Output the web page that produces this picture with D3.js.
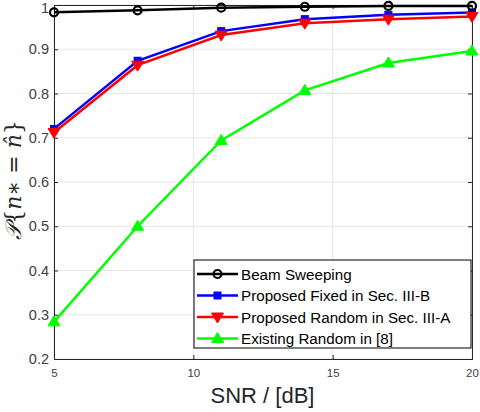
<!DOCTYPE html>
<html>
<head>
<meta charset="utf-8">
<script src="https://cdn.jsdelivr.net/npm/d3@7"></script>
<style>
body { margin: 0; background: #fff; }
svg { font-family: "Liberation Sans", Arial, sans-serif; }
</style>
</head>
<body>
<div id="chart"></div>
<script>
// data
const snr = [5, 8, 11, 14, 17, 20]
const beamSweeping = [0.9835, 0.988, 0.994, 0.996, 0.998, 0.998]
const proposedFixed = [0.72, 0.874, 0.941, 0.968, 0.978, 0.983]
const proposedRandom = [0.712, 0.864, 0.932, 0.959, 0.968, 0.974]
const existingRandom = [0.284, 0.5, 0.694, 0.807, 0.869, 0.896]
const xTicks = [5, 10, 15, 20]
const yTicks = [0.2, 0.3, 0.4, 0.5, 0.6, 0.7, 0.8, 0.9, 1]

const series = [
    { name: 'Beam Sweeping', values: beamSweeping, color: '#000000', marker: 'circle' },
    { name: 'Proposed Fixed in Sec. III-B', values: proposedFixed, color: '#0000ff', marker: 'square' },
    { name: 'Proposed Random in Sec. III-A', values: proposedRandom, color: '#ff0000', marker: 'down' },
    { name: 'Existing Random in [8]', values: existingRandom, color: '#00ff00', marker: 'up' }
]

const svgWidth = 480
const svgHeight = 412
const margin = { left: 54, right: 8, top: 5, bottom: 53 }
const width = svgWidth - margin.left - margin.right
const height = svgHeight - margin.top - margin.bottom

const svg = d3.select('#chart')
    .append('svg')
    .attr('width', svgWidth)
    .attr('height', svgHeight)

const g = svg.append('g')
    .attr('transform', `translate(${margin.left},${margin.top})`)

const xScale = d3.scaleLinear().domain([5, 20]).range([0, width])
const yScale = d3.scaleLinear().domain([0.2, 1]).range([height, 0])

// grid
g.append('g').selectAll('line')
    .data(xTicks)
    .join('line')
    .attr('x1', d => xScale(d)).attr('x2', d => xScale(d))
    .attr('y1', 0).attr('y2', height)
    .attr('stroke', '#e6e6e6').attr('stroke-width', 1)
g.append('g').selectAll('line')
    .data(yTicks)
    .join('line')
    .attr('x1', 0).attr('x2', width)
    .attr('y1', d => yScale(d)).attr('y2', d => yScale(d))
    .attr('stroke', '#e6e6e6').attr('stroke-width', 1)

// axes (MATLAB style box with inward ticks)
const axisColor = '#262626'
const xAxis = d3.axisBottom(xScale).tickValues(xTicks).tickSize(-4).tickPadding(10).tickFormat(d3.format('d'))
const yAxis = d3.axisLeft(yScale).tickValues(yTicks).tickSize(-4).tickPadding(5).tickFormat(d => d === 1 ? '1' : d3.format('.1f')(d))

const gx = g.append('g').attr('transform', `translate(0,${height})`).call(xAxis)
const gy = g.append('g').call(yAxis)
g.append('g').call(d3.axisTop(xScale).tickValues(xTicks).tickSize(-4).tickFormat(''))
g.append('g').attr('transform', `translate(${width},0)`).call(d3.axisRight(yScale).tickValues(yTicks).tickSize(-4).tickFormat(''))

g.selectAll('.domain').attr('stroke', axisColor).attr('stroke-width', 1)
g.selectAll('.tick line').attr('stroke', axisColor)
g.selectAll('.tick text').attr('fill', '#404040')
    .attr('font-family', '"Liberation Sans", Arial, sans-serif')
gx.selectAll('.tick text').attr('font-size', 11.5)
gy.selectAll('.tick text').attr('font-size', 14.5)
// top label "1" sits at the very edge; nudge it down a little so it stays whole
gy.selectAll('.tick text').filter(d => d === 1).attr('dy', '0.55em')

// lines
const line = d3.line()
    .x((d, i) => xScale(snr[i]))
    .y(d => yScale(d))

function drawMarker(sel, type, color, x, y) {
    if (type === 'circle') {
        sel.append('circle').attr('cx', x).attr('cy', y).attr('r', 4)
            .attr('fill', 'none').attr('stroke', color).attr('stroke-width', 2.2)
    } else if (type === 'square') {
        sel.append('rect').attr('x', x - 3.5).attr('y', y - 3.5).attr('width', 7).attr('height', 7)
            .attr('fill', color).attr('stroke', color).attr('stroke-width', 1)
    } else if (type === 'down') {
        sel.append('path').attr('d', `M${x - 6},${y - 4}L${x + 6},${y - 4}L${x},${y + 6}Z`)
            .attr('fill', color).attr('stroke', color).attr('stroke-width', 1)
    } else {
        sel.append('path').attr('d', `M${x - 6},${y + 4}L${x + 6},${y + 4}L${x},${y - 6}Z`)
            .attr('fill', color).attr('stroke', color).attr('stroke-width', 1)
    }
}

// draw order: green, blue, red, black (red sits over blue in the picture)
const order = [3, 1, 2, 0]
order.forEach(k => {
    const s = series[k]
    const sg = g.append('g')
    sg.append('path')
        .datum(s.values)
        .attr('d', line)
        .attr('fill', 'none')
        .attr('stroke', s.color)
        .attr('stroke-width', 2.5)
    s.values.forEach((v, i) => drawMarker(sg, s.marker, s.color, xScale(snr[i]), yScale(v)))
})

// legend
const legend = svg.append('g').attr('transform', 'translate(194,260)')
legend.append('rect')
    .attr('width', 277).attr('height', 88)
    .attr('fill', '#fff').attr('stroke', '#000').attr('stroke-width', 1)
series.forEach((s, i) => {
    const y = 14 + i * 21.5
    const row = legend.append('g')
    row.append('line').attr('x1', 3).attr('x2', 44).attr('y1', y).attr('y2', y)
        .attr('stroke', s.color).attr('stroke-width', 2.5)
    drawMarker(row, s.marker, s.color, 23.5, y)
    row.append('text').attr('x', 47).attr('y', y + 5.5)
        .attr('font-size', 15.2).attr('fill', '#000')
        .text(s.name)
})

// axis labels
svg.append('text')
    .attr('x', 262.5).attr('y', 403)
    .attr('text-anchor', 'middle')
    .attr('font-size', 22).attr('fill', axisColor)
    .text('SNR / [dB]')

const yl = svg.append('text')
    .attr('transform', `translate(21,180) rotate(-90)`)
    .attr('text-anchor', 'middle')
    .attr('font-size', 22).attr('fill', axisColor)
    .attr('font-family', '"DejaVu Serif", serif')
yl.append('tspan').attr('font-style', 'italic').text('𝒫')
yl.append('tspan').text('{')
yl.append('tspan').attr('font-style', 'italic').text('n')
yl.append('tspan').text('∗ = ')
yl.append('tspan').attr('font-style', 'italic').text('n̂')
yl.append('tspan').text('}')
</script>
</body>
</html>
